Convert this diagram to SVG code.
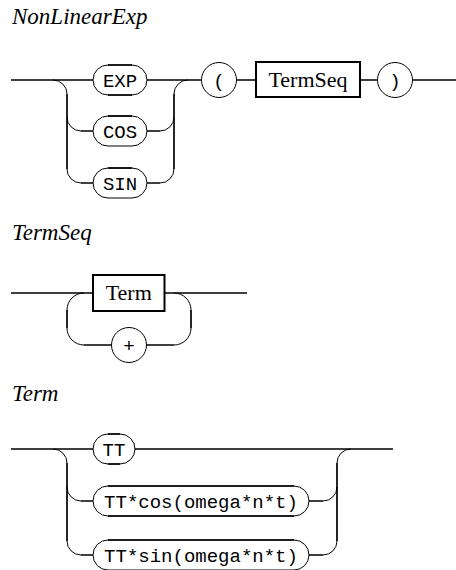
<svg xmlns="http://www.w3.org/2000/svg" width="456" height="570" viewBox="0 0 456 570">
<style>
  .ln{fill:none;stroke:#000;stroke-width:1.7;stroke-linecap:butt}
  .cv{fill:none;stroke:#000;stroke-width:1}
  .ov{fill:#fff;stroke:#000;stroke-width:1}
  .ovs{fill:none;stroke:#000;stroke-width:1.6}
  .bx{fill:#fff;stroke:#000;stroke-width:2}
  .ci{fill:#fff;stroke:#000;stroke-width:1}
  .tt{font-family:"Liberation Mono","DejaVu Sans Mono",monospace;font-size:19px;fill:#000;text-anchor:middle}
  .rm{font-family:"Liberation Serif","DejaVu Serif",serif;font-size:22px;fill:#000;text-anchor:middle}
  .ti{font-family:"Liberation Serif","DejaVu Serif",serif;font-size:23px;font-style:italic;fill:#000}
</style>
<rect width="456" height="570" fill="#fff"/>

<text class="ti" x="12" y="24">NonLinearExp</text>
<text class="ti" x="12" y="240">TermSeq</text>
<text class="ti" x="12" y="401">Term</text>

<g id="connectors">
  <!-- NonLinearExp -->
  <path class="ln" d="M11,80 H93 M147,80 H201.5 M236.5,80 H256 M360,80 H377.5 M412.5,80 H456"/>
  <path class="ln" d="M67,94 V169 M81,131 H93 M81,183 H93 M147,131 H160 M147,183 H160 M174,94 V169"/>
  <path class="cv" d="M53,80 A14,14 0 0 1 67,94 M67,117 A14,14 0 0 0 81,131 M67,169 A14,14 0 0 0 81,183 M160,131 A14,14 0 0 0 174,117 M160,183 A14,14 0 0 0 174,169 M174,94 A14,14 0 0 1 188,80"/>
  <!-- TermSeq -->
  <path class="ln" d="M11,293 H93 M164.5,293 H247 M67,310 V328 M84,345 H111.5 M146.5,345 H174 M191,310 V328"/>
  <path class="cv" d="M67,310 A17,17 0 0 1 84,293 M67,328 A17,17 0 0 0 84,345 M174,345 A17,17 0 0 0 191,328 M191,310 A17,17 0 0 0 174,293"/>
  <!-- Term -->
  <path class="ln" d="M11,449 H93 M135,449 H393 M67,463 V541 M81,501 H93 M81,555 H93 M309,501 H323 M309,555 H323 M337,463 V541"/>
  <path class="cv" d="M53,449 A14,14 0 0 1 67,463 M67,487 A14,14 0 0 0 81,501 M67,541 A14,14 0 0 0 81,555 M323,501 A14,14 0 0 0 337,487 M323,555 A14,14 0 0 0 337,541 M337,463 A14,14 0 0 1 351,449"/>
</g>

<g id="n-exp">
  <rect class="ov" x="93" y="65" width="54" height="30" rx="15"/>
  <path class="ovs" d="M108,65 H132 M108,95 H132"/>
  <text class="tt" x="120" y="87">EXP</text>
</g>
<g id="n-cos">
  <rect class="ov" x="93" y="116" width="54" height="30" rx="15"/>
  <path class="ovs" d="M108,116 H132"/>
  <text class="tt" x="120" y="138">COS</text>
</g>
<g id="n-sin">
  <rect class="ov" x="93" y="168" width="54" height="30" rx="15"/>
  <path class="ovs" d="M108,168 H132"/>
  <text class="tt" x="120" y="190">SIN</text>
</g>
<g id="n-lparen">
  <circle class="ci" cx="219" cy="80" r="17.5"/>
  <text class="tt" x="219" y="87">(</text>
</g>
<g id="n-termseq">
  <rect class="bx" x="256" y="62" width="104" height="35"/>
  <text class="rm" x="308" y="87">TermSeq</text>
</g>
<g id="n-rparen">
  <circle class="ci" cx="395" cy="80" r="17.5"/>
  <text class="tt" x="395" y="87">)</text>
</g>

<g id="n-term">
  <rect class="bx" x="93" y="275" width="71.5" height="36"/>
  <text class="rm" x="128.75" y="300">Term</text>
</g>
<g id="n-plus">
  <circle class="ci" cx="129" cy="345" r="17.5"/>
  <text class="tt" x="129" y="352">+</text>
</g>

<g id="n-tt">
  <rect class="ov" x="93" y="434" width="42" height="30" rx="15"/>
  <path class="ovs" d="M108,434 H120 M108,464 H120"/>
  <text class="tt" x="114" y="456">TT</text>
</g>
<g id="n-ttcos">
  <rect class="ov" x="93" y="486" width="216" height="30" rx="15"/>
  <path class="ovs" d="M108,486 H294 M108,516 H294"/>
  <text class="tt" x="201" y="508">TT*cos(omega*n*t)</text>
</g>
<g id="n-ttsin">
  <rect class="ov" x="93" y="540" width="216" height="30" rx="15"/>
  <path class="ovs" d="M108,540 H294"/>
  <text class="tt" x="201" y="562">TT*sin(omega*n*t)</text>
</g>
</svg>
